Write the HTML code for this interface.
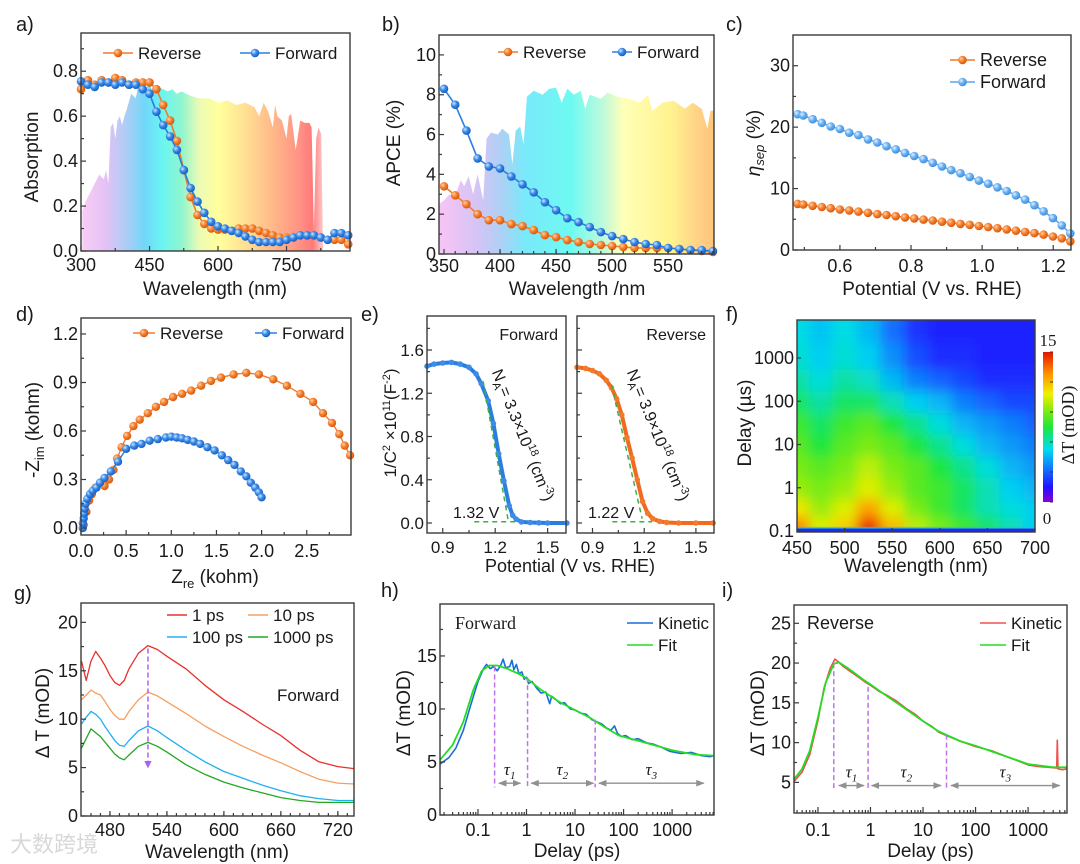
<!DOCTYPE html>
<html><head><meta charset="utf-8"><style>
html,body{margin:0;padding:0;background:#fff;}
svg{display:block;font-family:"Liberation Sans",sans-serif;}
</style></head><body>
<svg id="fig" width="1080" height="864" viewBox="0 0 1080 864" xmlns="http://www.w3.org/2000/svg">
<defs>
<radialGradient id="gOr" cx="35%" cy="35%" r="65%"><stop offset="0" stop-color="#ffd0a8"/><stop offset="0.5" stop-color="#f5812e"/><stop offset="1" stop-color="#d85a10"/></radialGradient>
<radialGradient id="gBl" cx="35%" cy="35%" r="65%"><stop offset="0" stop-color="#cfe6ff"/><stop offset="0.5" stop-color="#3a8ae6"/><stop offset="1" stop-color="#1660c8"/></radialGradient>
<radialGradient id="gLb" cx="35%" cy="35%" r="65%"><stop offset="0" stop-color="#e4f2ff"/><stop offset="0.5" stop-color="#6cb2f2"/><stop offset="1" stop-color="#3f8fe0"/></radialGradient>
<linearGradient id="specA" gradientUnits="userSpaceOnUse" x1="81" y1="0" x2="327" y2="0">
<stop offset="0" stop-color="#f8c0f2"/><stop offset="0.1" stop-color="#dcb0f2"/><stop offset="0.19" stop-color="#90c0f2"/><stop offset="0.26" stop-color="#48ccf8"/><stop offset="0.33" stop-color="#40f2ee"/><stop offset="0.41" stop-color="#70f2c0"/><stop offset="0.48" stop-color="#e6faa0"/><stop offset="0.56" stop-color="#ffff80"/><stop offset="0.67" stop-color="#ffd674"/><stop offset="0.78" stop-color="#ffa468"/><stop offset="0.89" stop-color="#ff7262"/><stop offset="0.94" stop-color="#ff5454"/><stop offset="1" stop-color="#ffe0e0"/>
</linearGradient>
<linearGradient id="specB" gradientUnits="userSpaceOnUse" x1="439" y1="0" x2="714" y2="0">
<stop offset="0" stop-color="#f6b4f2"/><stop offset="0.14" stop-color="#c8b4f2"/><stop offset="0.23" stop-color="#94c4f2"/><stop offset="0.31" stop-color="#54e2f8"/><stop offset="0.48" stop-color="#44f8ee"/><stop offset="0.6" stop-color="#b0f8d0"/><stop offset="0.67" stop-color="#ffffa4"/><stop offset="0.84" stop-color="#fff070"/><stop offset="0.95" stop-color="#ffc264"/><stop offset="1" stop-color="#ffb454"/>
</linearGradient>
<linearGradient id="cbar" x1="0" y1="1" x2="0" y2="0">
<stop offset="0" stop-color="#8c00d2"/><stop offset="0.1" stop-color="#1e14ff"/><stop offset="0.2" stop-color="#1464ff"/><stop offset="0.35" stop-color="#00dcf0"/><stop offset="0.5" stop-color="#1ee63c"/><stop offset="0.6" stop-color="#78eb14"/><stop offset="0.72" stop-color="#f0f000"/><stop offset="0.85" stop-color="#ff9600"/><stop offset="1" stop-color="#e61400"/>
</linearGradient>
<filter id="blur" x="-5%" y="-5%" width="110%" height="110%"><feGaussianBlur stdDeviation="6"/></filter>
<clipPath id="clipF"><rect x="797" y="320" width="238" height="212"/></clipPath>
<marker id="arrG" viewBox="0 0 10 10" refX="9" refY="5" markerWidth="6" markerHeight="6" orient="auto-start-reverse"><path d="M0,1 L10,5 L0,9 z" fill="#909090"/></marker>
<marker id="arrP" viewBox="0 0 10 10" refX="9" refY="5" markerWidth="5" markerHeight="5" orient="auto"><path d="M0,0 L10,5 L0,10 z" fill="#b060f0"/></marker>
</defs>
</svg>
<script>
// ---------- DATA ----------
// a) absorption
const aWl=[300,315,330,345,360,375,390,405,420,435,450,465,480,495,510,525,540,555,570,585,600,615,630,645,660,675,690,705,720,735,750,765,780,795,810,825,840,855,870,885];
const aRev=[0.72,0.76,0.74,0.76,0.75,0.77,0.76,0.74,0.75,0.75,0.75,0.72,0.65,0.58,0.49,0.36,0.24,0.16,0.12,0.10,0.095,0.095,0.09,0.10,0.10,0.10,0.09,0.08,0.07,0.06,0.06,0.06,0.07,0.07,0.07,0.06,0.05,0.05,0.05,0.03];
const aFwd=[0.755,0.74,0.73,0.75,0.75,0.74,0.75,0.74,0.74,0.72,0.70,0.62,0.56,0.51,0.45,0.36,0.28,0.22,0.17,0.13,0.11,0.10,0.09,0.08,0.065,0.05,0.04,0.04,0.04,0.04,0.05,0.06,0.07,0.07,0.07,0.06,0.05,0.08,0.08,0.07];
const aSpec=[[303,0.18],[310,0.22],[320,0.26],[330,0.3],[340,0.34],[350,0.32],[355,0.36],[360,0.3],[365,0.55],[370,0.57],[375,0.5],[380,0.58],[385,0.6],[390,0.56],[395,0.6],[400,0.63],[410,0.7],[420,0.68],[425,0.73],[430,0.74],[440,0.72],[450,0.74],[460,0.7],[470,0.73],[480,0.72],[490,0.71],[500,0.72],[510,0.7],[520,0.71],[530,0.7],[540,0.69],[560,0.68],[580,0.68],[600,0.66],[620,0.67],[640,0.65],[660,0.66],[680,0.64],[690,0.6],[700,0.66],[710,0.62],[720,0.55],[725,0.65],[730,0.6],[740,0.58],[750,0.5],[755,0.6],[760,0.61],[770,0.45],[780,0.58],[790,0.57],[800,0.57],[805,0.55],[810,0.1],[815,0.5],[820,0.55],[826,0.52],[830,0.0]];
// b) APCE
const bWl=[350,360,370,380,390,400,410,420,430,440,450,460,470,480,490,500,510,520,530,540,550,560,570,580,590];
const bFwd=[8.3,7.5,6.2,4.8,4.4,4.3,3.9,3.5,3.1,2.6,2.2,1.8,1.6,1.35,1.1,0.9,0.75,0.6,0.5,0.45,0.3,0.25,0.2,0.2,0.15];
const bRev=[3.4,2.95,2.5,2.0,1.7,1.7,1.5,1.4,1.2,0.95,0.85,0.7,0.6,0.5,0.45,0.4,0.35,0.3,0.3,0.3,0.3,0.25,0.2,0.15,0.1];
const bSpec=[[345.5,2.5],[350,2.7],[355,3],[360,2.9],[365,3.7],[368,3.4],[372,3.9],[376,3.0],[380,4.0],[385,2.7],[388,5.8],[392,6.1],[398,6.0],[402,6.3],[408,6.0],[411,4.5],[414,6.2],[418,6.4],[421,5.5],[424,7.9],[430,8.2],[438,8.0],[444,8.3],[450,8.35],[455,7.6],[460,8.3],[466,8.0],[472,8.2],[476,7.3],[480,8.0],[490,7.8],[496,8.1],[505,7.9],[515,7.8],[525,7.6],[532,8.0],[536,7.2],[545,7.6],[555,7.7],[565,7.3],[572,7.6],[580,7.3],[585,6.3],[588,7.2],[591,7.2]];
// c) separation efficiency
const cV=[0.481,0.497,0.523,0.549,0.574,0.6,0.626,0.652,0.679,0.705,0.731,0.757,0.783,0.809,0.835,0.861,0.887,0.913,0.939,0.965,0.991,1.017,1.043,1.069,1.095,1.121,1.147,1.173,1.199,1.224,1.248];
const cFwd=[22.1,21.9,21.3,20.7,20.1,19.7,19.1,18.7,18.0,17.5,16.9,16.4,15.8,15.3,14.8,14.2,13.6,13.0,12.5,11.9,11.3,10.8,10.2,9.6,8.9,8.2,7.3,6.3,5.2,4.0,2.7];
const cRev=[7.5,7.4,7.2,7.0,6.8,6.6,6.45,6.25,6.05,5.85,5.7,5.5,5.3,5.15,4.95,4.8,4.6,4.45,4.25,4.1,3.9,3.75,3.55,3.35,3.15,2.95,2.75,2.5,2.2,1.9,1.4];
// d) Nyquist
const dRevRe=[0.03,0.06,0.09,0.12,0.16,0.26,0.31,0.36,0.40,0.45,0.51,0.58,0.65,0.74,0.83,0.92,1.02,1.12,1.22,1.33,1.44,1.55,1.69,1.83,1.97,2.13,2.28,2.43,2.57,2.68,2.78,2.86,2.92,2.98];
const dRevIm=[0.02,0.1,0.17,0.21,0.25,0.26,0.30,0.36,0.43,0.50,0.57,0.63,0.67,0.71,0.75,0.78,0.81,0.83,0.85,0.88,0.91,0.93,0.95,0.96,0.95,0.92,0.88,0.83,0.78,0.71,0.65,0.58,0.51,0.45];
const dFwdRe=[0.02,0.02,0.03,0.035,0.04,0.05,0.07,0.1,0.13,0.17,0.21,0.26,0.33,0.41,0.5,0.59,0.67,0.76,0.85,0.94,1.0,1.06,1.12,1.18,1.25,1.32,1.4,1.48,1.56,1.63,1.7,1.77,1.83,1.88,1.93,1.97,2.0];
const dFwdIm=[0,0.03,0.06,0.09,0.12,0.15,0.18,0.21,0.23,0.25,0.28,0.31,0.35,0.41,0.49,0.51,0.52,0.54,0.55,0.56,0.565,0.56,0.555,0.545,0.535,0.52,0.5,0.48,0.45,0.42,0.39,0.35,0.32,0.28,0.25,0.22,0.19];
// e) Mott-Schottky
const eFwdV=[0.81,0.85,0.9,0.95,1.0,1.05,1.09,1.12,1.16,1.19,1.22,1.25,1.28,1.3,1.32,1.35,1.4,1.45,1.5,1.61];
const eFwdC=[1.45,1.47,1.48,1.485,1.47,1.44,1.38,1.29,1.13,0.92,0.64,0.39,0.16,0.07,0.035,0.01,0.005,0.002,0,0];
const eRevV=[0.81,0.86,0.9,0.94,0.98,1.01,1.04,1.07,1.1,1.13,1.16,1.19,1.22,1.25,1.29,1.33,1.4,1.5,1.6];
const eRevC=[1.44,1.43,1.41,1.38,1.32,1.25,1.15,1.0,0.79,0.6,0.4,0.2,0.09,0.04,0.015,0.005,0,0,0];
// f) heatmap
const fWl=[450,475,500,525,550,575,600,625,650,675,700];
const fDelay=[0.15,0.3,1,3,10,30,100,300,1000,5000];
const fVals=[
[13,10.5,11.5,14.5,12,10,9,8,7,6,5],
[11,9.5,10.5,12.5,10.5,9,8,7,6,5.5,5],
[9.5,9,9.5,10.5,9.5,8.5,8,7,6,5,4.5],
[9,8.5,9,10,9,8.5,7.5,6.5,5.5,4.5,4],
[8.5,7.5,8.5,9,8.5,7.5,6.5,5.5,4.5,4,3.5],
[8,7,8,8.5,7.5,6.5,5.5,4.5,4,3.5,3],
[7,6.2,7,7,6,5,4.5,3.5,3,2.5,2.5],
[6.2,5.5,6.2,5.8,4.6,3.5,3,2.5,2,2,2],
[5.6,5,5.6,5,3.8,2.6,2,2,1.8,1.8,1.8],
[5.4,4.8,5.4,4.6,3.2,2.1,1.8,1.8,1.8,1.8,1.8]];
// g) transient spectra
const gWl=[450,455,460,465,470,475,480,485,490,495,500,510,520,530,540,560,580,600,620,640,660,680,700,720,737];
const g1ps=[16,14,16,17,16.3,15.5,14.5,13.8,13.5,14,15.2,16.8,17.6,17.2,16.5,15.2,13.5,12,10.8,9.5,8.3,6.8,5.6,5.1,4.9];
const g10ps=[12,12.5,13,12.7,12.5,11.8,11,10.4,10,10,10.8,12,12.8,12.4,11.8,10.6,9.3,8.2,7.2,6.3,5.5,4.6,3.8,3.4,3.3];
const g100ps=[9.5,10.2,10.8,10.5,10,9.2,8.5,7.8,7.3,7.2,7.8,8.8,9.3,8.8,8.1,6.8,5.6,4.6,3.9,3.2,2.6,2.1,1.8,1.6,1.6];
const g1000ps=[7,8,9,8.6,8.2,7.6,7,6.4,6,5.8,6.3,7.2,7.6,7.2,6.6,5.3,4.3,3.5,2.9,2.4,1.9,1.6,1.4,1.4,1.4];
// h) forward kinetics
const hKinT=[0.0165,0.025,0.035,0.05,0.07,0.1,0.13,0.15,0.18,0.21,0.25,0.3,0.33,0.37,0.45,0.5,0.55,0.62,0.7,0.8,0.9,1.0,1.1,1.3,1.6,2,2.5,3,3.3,4,5,6,8,10,13,17,22,28,35,45,55,65,75,90,110,150,200,300,400,600,900,1500,2500,4000,6000,7300];
const hKin=[4.8,5.4,6.3,8.0,10.3,12.6,13.8,14.2,13.8,14.0,13.6,14.2,14.7,13.9,14.0,14.6,13.7,14.2,13.3,13.5,12.8,13.0,12.4,12.6,12.0,11.5,11.6,10.5,11.2,10.9,10.5,10.6,10.0,9.9,9.6,9.5,9.0,8.8,8.6,8.2,8.0,8.4,7.7,7.4,7.5,7.1,7.2,6.8,6.7,6.4,6.0,5.8,5.9,5.6,5.5,5.6];
const hFitT=[0.0165,0.03,0.05,0.08,0.12,0.17,0.25,0.4,0.7,1,2,5,10,20,40,80,200,500,1000,3000,7300];
const hFit=[5.2,6.6,8.8,11.8,13.6,14.1,14.1,13.8,13.3,12.9,11.8,10.6,9.9,9.2,8.3,7.5,7.0,6.5,6.1,5.7,5.6];
const hTau=[0.22,1.05,26];
// i) reverse kinetics
const iKinT=[0.035,0.05,0.07,0.1,0.13,0.17,0.21,0.24,0.3,0.4,0.6,0.8,1,1.5,2,3,5,7,10,15,20,30,50,100,200,400,700,1000,1500,2500,3500,3600,3700,4500,5500];
const iKin=[5.1,6.3,8.5,12.8,16.8,19.3,20.5,20.2,19.6,19.0,18.2,17.6,17.2,16.4,16.0,15.3,14.2,13.6,12.7,12.0,11.3,10.8,10.2,9.5,9.0,8.2,7.6,7.2,7.0,6.9,6.8,10.3,6.7,6.6,6.7];
const iFitT=[0.035,0.05,0.07,0.1,0.14,0.2,0.25,0.4,0.7,1,2,5,10,20,50,100,300,1000,3000,5500];
const iFit=[5.4,6.7,9.0,13.2,17.5,19.9,20.1,19.2,18.0,17.3,15.9,14.1,12.7,11.4,10.2,9.6,8.5,7.3,6.9,6.9];
const iTau=[0.2,0.9,28];

// ---------- HELPERS ----------
const NS='http://www.w3.org/2000/svg';
const svg=document.getElementById('fig');
function mk(tag,attrs,parent,name){
  const e=document.createElementNS(NS,tag);
  for(const k in attrs) e.setAttribute(k,attrs[k]);
  
  
  (parent||svg).appendChild(e);
  return e;
}
function txt(parent,x,y,html,o,name){
  o=o||{};
  const a={x:x,y:y,'font-size':o.size||17,fill:o.fill||'#1a1a1a','text-anchor':o.anchor||'start'};
  if(o.family) a['font-family']=o.family;
  if(o.style) a['font-style']=o.style;
  if(o.rot!=null) a.transform='rotate('+o.rot+' '+x+' '+y+')';
  const t=mk('text',a,parent,name);
  t.innerHTML=html;
  return t;
}
const lin=(d0,d1,r0,r1)=>v=>r0+(v-d0)*(r1-r0)/(d1-d0);
const lg=(d0,d1,r0,r1)=>v=>r0+(Math.log10(v)-Math.log10(d0))*(r1-r0)/(Math.log10(d1)-Math.log10(d0));
function frame(g,L,T,R,B,name){mk('rect',{x:L,y:T,width:R-L,height:B-T,fill:'none',stroke:'#3a3a3a','stroke-width':1.4},g,name);}
function xt(g,sx,B,vals,labels,base,len,size){
  vals.forEach((v,i)=>{const x=sx(v);
    mk('line',{x1:x,x2:x,y1:B,y2:B-len,stroke:'#3a3a3a','stroke-width':1.2},g,'x-tick');
    if(labels&&labels[i]!=null&&labels[i]!=='') txt(g,x,base,labels[i],{anchor:'middle',size:size||18},'x-tick-label');});
}
function yt(g,sy,L,vals,labels,len,size,off){
  vals.forEach((v,i)=>{const y=sy(v);
    mk('line',{x1:L,x2:L+len,y1:y,y2:y,stroke:'#3a3a3a','stroke-width':1.2},g,'y-tick');
    if(labels&&labels[i]!=null&&labels[i]!=='') txt(g,L-(off||3),y+6,labels[i],{anchor:'end',size:size||18},'y-tick-label');});
}
function line(g,xs,ys,sx,sy,col,w,name){
  const pts=xs.map((x,i)=>sx(x).toFixed(1)+','+sy(ys[i]).toFixed(1)).join(' ');
  return mk('polyline',{points:pts,fill:'none',stroke:col,'stroke-width':w||1.5,'stroke-linejoin':'round'},g,name);
}
function dots(g,xs,ys,sx,sy,fill,r,name){
  xs.forEach((x,i)=>mk('circle',{cx:sx(x).toFixed(1),cy:sy(ys[i]).toFixed(1),r:r||4.3,fill:fill},g,name));
}
function legItem(g,x,y,col,fill,label,size,w){
  mk('line',{x1:x,x2:x+(w||30),y1:y,y2:y,stroke:col,'stroke-width':1.6},g,'legend-line');
  if(fill) mk('circle',{cx:x+(w||30)/2,cy:y,r:4.3,fill:fill},g,'legend-marker');
  txt(g,x+(w||30)+5,y+6,label,{size:size||17},'legend-label');
}
function specPoly(g,pairs,sx,sy,y0,fill,name){
  let d='M'+sx(pairs[0][0])+','+y0;
  pairs.forEach(p=>{d+=' L'+sx(p[0]).toFixed(1)+','+sy(p[1]).toFixed(1);});
  d+=' L'+sx(pairs[pairs.length-1][0])+','+y0+' Z';
  mk('path',{d:d,fill:fill,opacity:0.78},g,name);
}
const range=(a,b,s)=>{const r=[];for(let v=a;v<=b+1e-9;v+=s)r.push(+v.toFixed(4));return r;};

// ---------- PANEL A ----------
(function(){
  const g=mk('g',{},svg,'panel-a-absorption');
  const L=81,T=33,R=350,B=251;
  const sx=lin(300,889,L,R), sy=lin(0,0.97,B,T);
  specPoly(g,aSpec,sx,sy,B,'url(#specA)','solar-spectrum-a');
  line(g,aWl,aRev,sx,sy,'#f07a30',1.6,'reverse-line');
  dots(g,aWl,aRev,sx,sy,'url(#gOr)',4.3,'reverse-point');
  line(g,aWl,aFwd,sx,sy,'#2a7ee0',1.6,'forward-line');
  dots(g,aWl,aFwd,sx,sy,'url(#gBl)',4.3,'forward-point');
  frame(g,L,T,R,B,'plot-frame-a');
  xt(g,sx,B,[300,450,600,750],['300','450','600','750'],271,5);
  xt(g,sx,B,[375,525,675,825],null,0,3);
  yt(g,sy,L,[0,0.2,0.4,0.6,0.8],['0.0','0.2','0.4','0.6','0.8'],5);
  yt(g,sy,L,[0.1,0.3,0.5,0.7,0.9],null,3);
  txt(g,215,295,'Wavelength (nm)',{anchor:'middle',size:19},'x-axis-title');
  txt(g,38,157,'Absorption',{anchor:'middle',size:19,rot:-90},'y-axis-title');
  legItem(g,103,53,'#f07a30','url(#gOr)','Reverse',17);
  legItem(g,240,53,'#2a7ee0','url(#gBl)','Forward',17);
  txt(g,16,31,'a)',{size:20},'panel-label-a');
})();

// ---------- PANEL B ----------
(function(){
  const g=mk('g',{},svg,'panel-b-apce');
  const L=439,T=35,R=714,B=254;
  const sx=lin(345.5,591,L,R), sy=lin(0,11,B,T);
  specPoly(g,bSpec,sx,sy,B,'url(#specB)','solar-spectrum-b');
  line(g,bWl,bRev,sx,sy,'#f07a30',1.6,'reverse-line');
  dots(g,bWl,bRev,sx,sy,'url(#gOr)',4.3,'reverse-point');
  line(g,bWl,bFwd,sx,sy,'#2a7ee0',1.6,'forward-line');
  dots(g,bWl,bFwd,sx,sy,'url(#gBl)',4.3,'forward-point');
  frame(g,L,T,R,B,'plot-frame-b');
  xt(g,sx,B,[350,400,450,500,550],['350','400','450','500','550'],272,5);
  xt(g,sx,B,range(360,590,10),null,0,3);
  yt(g,sy,L,[0,2,4,6,8,10],['0','2','4','6','8','10'],5);
  yt(g,sy,L,[1,3,5,7,9],null,3);
  txt(g,577,295,'Wavelength /nm',{anchor:'middle',size:19},'x-axis-title');
  txt(g,400,143,'APCE (%)',{anchor:'middle',size:19,rot:-90},'y-axis-title');
  legItem(g,498,52,'#f07a30','url(#gOr)','Reverse',17,20);
  legItem(g,612,52,'#2a7ee0','url(#gBl)','Forward',17,20);
  txt(g,382,31,'b)',{size:20},'panel-label-b');
})();

// ---------- PANEL C ----------
(function(){
  const g=mk('g',{},svg,'panel-c-separation');
  const L=793,T=35,R=1071,B=250;
  const sx=lin(0.468,1.25,L,R), sy=lin(0,35,B,T);
  line(g,cV,cRev,sx,sy,'#f07a30',1.6,'reverse-line');
  dots(g,cV,cRev,sx,sy,'url(#gOr)',4.3,'reverse-point');
  line(g,cV,cFwd,sx,sy,'#5aa6ee',1.6,'forward-line');
  dots(g,cV,cFwd,sx,sy,'url(#gLb)',4.3,'forward-point');
  frame(g,L,T,R,B,'plot-frame-c');
  xt(g,sx,B,[0.6,0.8,1.0,1.2],['0.6','0.8','1.0','1.2'],272,5);
  xt(g,sx,B,[0.5,0.7,0.9,1.1],null,0,3);
  yt(g,sy,L,[0,10,20,30],['0','10','20','30'],5);
  yt(g,sy,L,[5,15,25],null,3);
  txt(g,932,295,'Potential (V vs. RHE)',{anchor:'middle',size:19},'x-axis-title');
  txt(g,760,143,'<tspan font-style="italic">η</tspan><tspan font-size="13" font-style="italic" dy="4">sep</tspan><tspan dy="-4"> (%)</tspan>',{anchor:'middle',size:19,rot:-90},'y-axis-title');
  legItem(g,950,60,'#f07a30','url(#gOr)','Reverse',18,25);
  legItem(g,950,82,'#5aa6ee','url(#gLb)','Forward',18,25);
  txt(g,726,31,'c)',{size:20},'panel-label-c');
})();

// ---------- PANEL D ----------
(function(){
  const g=mk('g',{},svg,'panel-d-nyquist');
  const L=81,T=318,R=351,B=535;
  const sx=lin(0,2.99,L,R), sy=lin(0,1.2,528,334);
  line(g,dRevRe,dRevIm,sx,sy,'#f07a30',1.4,'reverse-line');
  dots(g,dRevRe,dRevIm,sx,sy,'url(#gOr)',4.2,'reverse-point');
  line(g,dFwdRe,dFwdIm,sx,sy,'#2a7ee0',1.4,'forward-line');
  dots(g,dFwdRe,dFwdIm,sx,sy,'url(#gBl)',4.2,'forward-point');
  frame(g,L,T,R,B,'plot-frame-d');
  xt(g,sx,B,[0,0.5,1,1.5,2,2.5],['0.0','0.5','1.0','1.5','2.0','2.5'],557,5);
  xt(g,sx,B,[0.25,0.75,1.25,1.75,2.25,2.75],null,0,3);
  yt(g,sy,L,[0,0.3,0.6,0.9,1.2],['0.0','0.3','0.6','0.9','1.2'],5);
  yt(g,sy,L,[0.15,0.45,0.75,1.05],null,3);
  txt(g,215,583,'Z<tspan font-size="13" dy="5">re</tspan><tspan dy="-5"> (kohm)</tspan>',{anchor:'middle',size:19},'x-axis-title');
  txt(g,39,430,'-Z<tspan font-size="13" dy="5">im</tspan><tspan dy="-5"> (kohm)</tspan>',{anchor:'middle',size:19,rot:-90},'y-axis-title');
  legItem(g,133,333,'#f07a30','url(#gOr)','Reverse',17,22);
  legItem(g,255,333,'#2a7ee0','url(#gBl)','Forward',17,22);
  txt(g,16,321,'d)',{size:20},'panel-label-d');
})();

// ---------- PANEL E ----------
(function(){
  const g=mk('g',{},svg,'panel-e-mott-schottky');
  const T=316,B=533;
  const sy=lin(0,1.6,523,350);
  const subs=[
    {L:427,R:566,V:eFwdV,C:eFwdC,col:'#2a7ee0',fill:'#3f8ce8',name:'forward',title:'Forward',fit:[[1.131,1.31],[1.275,0.02]],base:[1.08,1.32],na:'3.3',vlab:'1.32 V',cx:518,vx:453},
    {L:577,R:714,V:eRevV,C:eRevC,col:'#f06a20',fill:'#f27a2e',name:'reverse',title:'Reverse',fit:[[1.01,1.28],[1.188,0.04]],base:[1.015,1.246],na:'3.9',vlab:'1.22 V',cx:653,vx:588}
  ];
  subs.forEach(s=>{
    const sg=mk('g',{},g,'subplot-'+s.name);
    const sx=lin(0.81,1.605,s.L,s.R);
    line(sg,s.V,s.C,sx,sy,s.col,4,s.name+'-curve');
    dots(sg,s.V,s.C,sx,sy,s.fill,2.8,s.name+'-point');
    mk('line',{x1:sx(s.fit[0][0]),y1:sy(s.fit[0][1]),x2:sx(s.fit[1][0]),y2:sy(s.fit[1][1]),stroke:'#3cb043','stroke-width':1.5,'stroke-dasharray':'5,4'},sg,'fit-line');
    mk('line',{x1:sx(s.base[0]),y1:sy(0.012),x2:sx(s.base[1]),y2:sy(0.012),stroke:'#3cb043','stroke-width':1.5,'stroke-dasharray':'5,4'},sg,'baseline-fit');
    frame(sg,s.L,T,s.R,B,'plot-frame');
    xt(sg,sx,B,[0.9,1.2,1.5],['0.9','1.2','1.5'],553,5,17);
    xt(sg,sx,B,[1.05,1.35],null,0,3);
    yt(sg,sy,s.L,[0,0.4,0.8,1.2,1.6],s.name==='forward'?['0.0','0.4','0.8','1.2','1.6']:null,5,17);
    yt(sg,sy,s.L,[0.2,0.6,1.0,1.4,1.8],null,3);
    txt(sg,s.R-8,340,s.title,{anchor:'end',size:16},'subplot-title');
    txt(sg,s.cx,437,'N<tspan font-size="11" dy="4">A</tspan><tspan dy="-4">= '+s.na+'×10</tspan><tspan font-size="11" dy="-6">18</tspan><tspan dy="6"> (cm</tspan><tspan font-size="11" dy="-6">-3</tspan><tspan dy="6">)</tspan>',{anchor:'middle',size:16,rot:68},'doping-density-label');
    txt(sg,s.vx,518,s.vlab,{size:16},'flatband-potential-label');
  });
  txt(g,570,572,'Potential (V vs. RHE)',{anchor:'middle',size:18},'x-axis-title');
  txt(g,396,423,'1/C<tspan font-size="11" dy="-6">2</tspan><tspan dy="6"> ×10</tspan><tspan font-size="11" dy="-6">11</tspan><tspan dy="6">(F</tspan><tspan font-size="11" dy="-6">-2</tspan><tspan dy="6">)</tspan>',{anchor:'middle',size:17,rot:-90},'y-axis-title');
  txt(g,361,321,'e)',{size:20},'panel-label-e');
})();

// ---------- PANEL F ----------
(function(){
  const g=mk('g',{},svg,'panel-f-heatmap');
  const L=797,T=320,R=1035,B=532;
  const sx=lin(450,700,L,R), sy=lg(0.1,1000,531,358);
  const stops=[[0,[140,0,210]],[0.1,[30,20,255]],[0.2,[20,100,255]],[0.35,[0,220,240]],[0.5,[30,230,60]],[0.6,[120,235,20]],[0.72,[240,240,0]],[0.85,[255,150,0]],[1,[230,20,0]]];
  function cmap(v){const t=Math.max(0,Math.min(1,v/15));for(let i=1;i<stops.length;i++){if(t<=stops[i][0]){const a=stops[i-1],b=stops[i],f=(t-a[0])/(b[0]-a[0]);return 'rgb('+a[1].map((c,k)=>Math.round(c+(b[1][k]-c)*f)).join(',')+')';}}return 'rgb(230,20,0)';}
  const clip=mk('g',{'clip-path':'url(#clipF)'},g,'heatmap-area');
  const hg=mk('g',{filter:'url(#blur)'},clip,'heatmap-cells');
  const lgD=fDelay.map(d=>Math.log10(d));
  fDelay.forEach((d,r)=>{
    const lo=r===0?Math.log10(0.11):(lgD[r-1]+lgD[r])/2;
    const hi=r===fDelay.length-1?Math.log10(20000):(lgD[r]+lgD[r+1])/2;
    fWl.forEach((w,c)=>{
      const x0=c===0?L-30:sx((fWl[c-1]+w)/2), x1=c===fWl.length-1?R+30:sx((w+fWl[c+1])/2);
      const y0=sy(Math.pow(10,hi)), y1=sy(Math.pow(10,lo))+(r===0?20:0);
      const cell=mk('rect',{x:x0.toFixed(1),y:y0.toFixed(1),width:(x1-x0+0.5).toFixed(1),height:(y1-y0+0.5).toFixed(1),fill:cmap(fVals[r][c])},hg,'heatmap-cell');
    });
  });
  mk('rect',{x:L,y:sy(0.118),width:R-L,height:B-sy(0.118),fill:'#1a2ee0'},clip,'prepump-band');
  mk('rect',{x:L,y:sy(0.125),width:R-L,height:2,fill:'#30c0f0',opacity:0.7},clip,'pump-edge');
  frame(g,L,T,R,B,'plot-frame-f');
  xt(g,sx,B,[450,500,550,600,650,700],['450','500','550','600','650','700'],554,4);
  yt(g,sy,L,[0.1,1,10,100,1000],['0.1','1','10','100','1000'],4);
  txt(g,916,572,'Wavelength (nm)',{anchor:'middle',size:19},'x-axis-title');
  txt(g,751,423,'Delay (µs)',{anchor:'middle',size:19,rot:-90},'y-axis-title');
  mk('rect',{x:1043,y:352,width:10,height:150,fill:'url(#cbar)'},g,'colorbar');
  [0,0.2,0.4,0.6,0.8,1].forEach(f=>mk('line',{x1:1050,x2:1053,y1:502-150*f,y2:502-150*f,stroke:'#333','stroke-width':1},g,'colorbar-tick'));
  txt(g,1048,346,'15',{anchor:'middle',size:17,family:'"Liberation Serif",serif'},'colorbar-max-label');
  txt(g,1047,524,'0',{anchor:'middle',size:17,family:'"Liberation Serif",serif'},'colorbar-min-label');
  txt(g,1074,425,'ΔT (mOD)',{anchor:'middle',size:18,family:'"Liberation Serif",serif',rot:-90},'colorbar-title');
  txt(g,726,321,'f)',{size:20},'panel-label-f');
})();

// ---------- PANEL G ----------
(function(){
  const g=mk('g',{},svg,'panel-g-spectra');
  const L=81,T=603,R=354,B=816;
  const sx=lin(449.5,737,L,R), sy=lin(0,22,B,T);
  const ser=[[g1ps,'#e8302c','1 ps'],[g10ps,'#f5a060','10 ps'],[g100ps,'#20b0f0','100 ps'],[g1000ps,'#22a822','1000 ps']];
  ser.forEach(s=>line(g,gWl,s[0],sx,sy,s[1],1.3,'spectrum-'+s[2].replace(' ','')));
  mk('line',{x1:sx(520),x2:sx(520),y1:sy(17.3),y2:sy(5),stroke:'#b060f0','stroke-width':1.5,'stroke-dasharray':'5,3','marker-end':'url(#arrP)'},g,'decay-arrow');
  frame(g,L,T,R,B,'plot-frame-g');
  xt(g,sx,B,[480,540,600,660,720],['480','540','600','660','720'],836,5);
  xt(g,sx,B,range(460,730,10),null,0,3);
  yt(g,sy,L,[0,5,10,15,20],['0','5','10','15','20'],5);
  yt(g,sy,L,[2.5,7.5,12.5,17.5],null,3);
  legItem(g,167,615,'#e8302c',null,'1 ps',17,20);
  legItem(g,248,615,'#f5a060',null,'10 ps',17,20);
  legItem(g,167,637,'#20b0f0',null,'100 ps',17,20);
  legItem(g,248,637,'#22a822',null,'1000 ps',17,20);
  txt(g,277,701,'Forward',{size:17},'condition-label');
  txt(g,10,852,'大数跨境',{size:22,fill:'#d8d8d8',family:'"Liberation Sans","Noto Sans CJK SC",sans-serif'},'watermark');
  txt(g,217,858,'Wavelength (nm)',{anchor:'middle',size:19},'x-axis-title');
  txt(g,49,713,'Δ T (mOD)',{anchor:'middle',size:19,rot:-90},'y-axis-title');
  txt(g,14,600,'g)',{size:20},'panel-label-g');
})();

// ---------- KINETICS (H, I) ----------
function kinetics(o){
  const g=mk('g',{},svg,o.name);
  const sx=lg(o.x0,o.x1,o.L,o.R), sy=lin(o.y0,o.y1,o.B,o.T);
  line(g,o.kT,o.kV,sx,sy,o.kcol,1.6,'kinetic-trace');
  line(g,o.fT,o.fV,sx,sy,'#22dd22',1.8,'fit-curve');
  o.tau.forEach((t,i)=>{
    const top=o.tauTop[i];
    mk('line',{x1:sx(t),x2:sx(t),y1:sy(top),y2:sy(o.ay-0.4),stroke:'#c070f0','stroke-width':1.5,'stroke-dasharray':'5,3'},g,'tau-divider');
  });
  o.arrows.forEach((a,i)=>{
    mk('line',{x1:sx(a[0]),x2:sx(a[1]),y1:sy(o.ay),y2:sy(o.ay),stroke:'#909090','stroke-width':1.4,'marker-start':'url(#arrG)','marker-end':'url(#arrG)'},g,'tau-arrow');
    const xm=(sx(a[0])+sx(a[1]))/2;
    txt(g,xm,sy(o.ay)-8,'τ<tspan font-size="11" dy="4">'+(i+1)+'</tspan>',{anchor:'middle',size:17,style:'italic',family:'"Liberation Serif",serif'},'tau-label');
  });
  frame(g,o.L,o.T,o.R,o.B,'plot-frame');
  const dec=[0.1,1,10,100,1000];
  xt(g,sx,o.B,dec,['0.1','1','10','100','1000'],836,6);
  const minors=[];
  for(let e=-2;e<=3;e++){for(let m=2;m<=9;m++){const v=m*Math.pow(10,e);if(v>o.x0&&v<o.x1)minors.push(v);}}
  xt(g,sx,o.B,minors,null,0,3);
  yt(g,sy,o.L,o.yt,o.yt.map(String),5);
  yt(g,sy,o.L,o.ym,null,3);
  txt(g,(o.L+o.R)/2,857,'Delay (ps)',{anchor:'middle',size:19},'x-axis-title');
  txt(g,o.ytx,713,'ΔT (mOD)',{anchor:'middle',size:19,rot:-90},'y-axis-title');
  legItem(g,o.lx,623,o.kcol,null,'Kinetic',17,26);
  legItem(g,o.lx,645,'#22dd22',null,'Fit',17,26);
  txt(g,o.cx,629,o.cond,{size:18,family:o.serif?'"Liberation Serif",serif':undefined},'condition-label');
  txt(g,o.px,597,o.plabel,{size:20},'panel-label');
}
kinetics({name:'panel-h-forward-kinetics',L:440,T:604,R:714,B:815,x0:0.0165,x1:7300,y0:0,y1:19.9,kT:hKinT,kV:hKin,fT:hFitT,fV:hFit,kcol:'#1a6ed8',tau:hTau,tauTop:[14,13,9],ay:3,arrows:[[0.27,0.75],[1.25,24],[31,4500]],yt:[0,5,10,15],ym:[2.5,7.5,12.5,17.5],ytx:410,lx:627,cx:455,cond:'Forward',serif:true,px:381,plabel:'h)'});
kinetics({name:'panel-i-reverse-kinetics',L:794,T:605,R:1067,B:813,x0:0.035,x1:5500,y0:1.15,y1:27.3,kT:iKinT,kV:iKin,fT:iFitT,fV:iFit,kcol:'#f05050',tau:iTau,tauTop:[20,17,11],ay:4.6,arrows:[[0.25,0.75],[1.05,22],[34,4000]],yt:[5,10,15,20,25],ym:[7.5,12.5,17.5,22.5],ytx:764,lx:980,cx:807,cond:'Reverse',serif:false,px:722,plabel:'i)'});
</script>
</body></html>
